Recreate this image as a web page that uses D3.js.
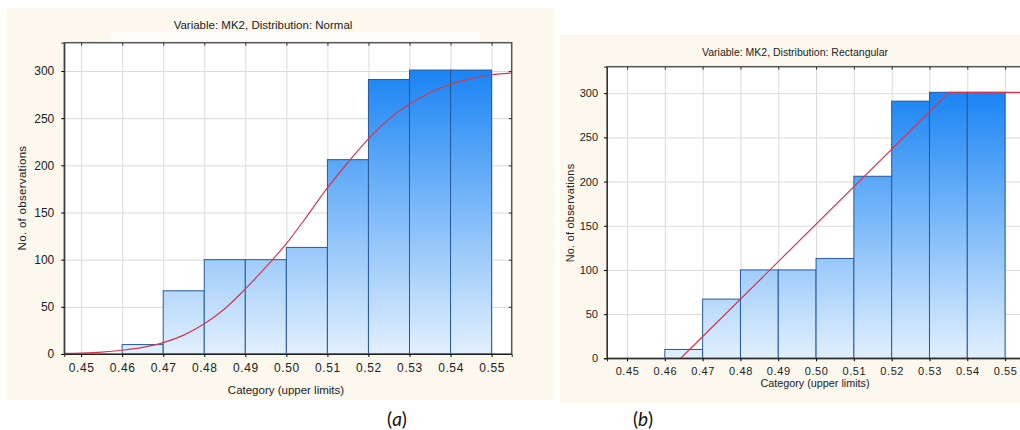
<!DOCTYPE html>
<html>
<head>
<meta charset="utf-8">
<script src="https://cdn.jsdelivr.net/npm/d3@7"></script>
<style>
    body { margin: 0; background: #fff; }
    svg { display: block; font-family: "Liberation Sans", Arial, sans-serif; }
</style>
</head>
<body>
<svg id="chart" width="1020" height="430"></svg>
<script>
// bins are labelled by their upper limits
const binLower = [0.45, 0.46, 0.47, 0.48, 0.49, 0.50, 0.51, 0.52, 0.53, 0.54];
const binUpper = [0.46, 0.47, 0.48, 0.49, 0.50, 0.51, 0.52, 0.53, 0.54, 0.55];
const counts = [0, 10, 67, 100, 100, 113, 206, 291, 301, 301];

const xTicks = [0.45, 0.46, 0.47, 0.48, 0.49, 0.50, 0.51, 0.52, 0.53, 0.54, 0.55];
const yTicks = [0, 50, 100, 150, 200, 250, 300];

// fitted cumulative curves
const normalX = [0.4455, 0.45, 0.455, 0.46, 0.465, 0.47, 0.475, 0.48, 0.485, 0.49, 0.495, 0.50,
    0.505, 0.51, 0.515, 0.52, 0.525, 0.53, 0.535, 0.54, 0.545, 0.55, 0.555];
const normalY = [0.6, 1, 2, 4, 7, 12, 20, 32, 48, 69, 92, 117,
    146, 176, 203, 228, 249, 265, 277, 286, 292, 296, 298];
const rectX = [0.4642, 0.5352, 0.556];
const rectY = [0, 301, 301];

class HistPanel {
    constructor(svg, opts) {
        this.svg = svg;
        this.o = opts;
    }

    draw() {
        const o = this.o;
        const g = this.svg.append("g");

        g.append("rect")
            .attr("x", o.panel[0]).attr("y", o.panel[1])
            .attr("width", o.panel[2]).attr("height", o.panel[3])
            .attr("fill", "#fcf8ee");
        if (o.whiteBand) {
            g.append("rect")
                .attr("x", o.whiteBand[0]).attr("y", o.whiteBand[1])
                .attr("width", o.whiteBand[2]).attr("height", o.whiteBand[3])
                .attr("fill", "#fefdf9");
        }

        const x = d3.scaleLinear().domain(o.xDomain).range([o.left, o.right]);
        const y = d3.scaleLinear().domain([0, 330]).range([o.bottom, o.top]);

        g.append("rect")
            .attr("x", o.left).attr("y", o.top)
            .attr("width", o.right - o.left).attr("height", o.bottom - o.top)
            .attr("fill", "#fff");

        const clipId = "clip-" + o.id;
        g.append("clipPath").attr("id", clipId)
            .append("rect")
            .attr("x", o.left).attr("y", o.top)
            .attr("width", o.right - o.left).attr("height", o.bottom - o.top);

        // grid
        g.append("g")
            .attr("transform", `translate(0,${o.bottom})`)
            .call(d3.axisBottom(x).tickValues(xTicks).tickSize(-(o.bottom - o.top)).tickFormat(""))
            .call(s => s.select(".domain").remove())
            .call(s => s.selectAll("line").attr("stroke", "#dadada"));
        g.append("g")
            .attr("transform", `translate(${o.left},0)`)
            .call(d3.axisLeft(y).tickValues(yTicks).tickSize(-(o.right - o.left)).tickFormat(""))
            .call(s => s.select(".domain").remove())
            .call(s => s.selectAll("line").attr("stroke", "#dadada"));

        // bar gradient spans the whole plot height
        const gradId = "grad-" + o.id;
        const grad = g.append("linearGradient")
            .attr("id", gradId)
            .attr("gradientUnits", "userSpaceOnUse")
            .attr("x1", 0).attr("x2", 0)
            .attr("y1", y(301)).attr("y2", y(0));
        grad.append("stop").attr("offset", 0).attr("stop-color", "#1a84f4");
        grad.append("stop").attr("offset", 1).attr("stop-color", "#e2f0fd");

        const bins = counts.map((c, i) => ({ lo: binLower[i], hi: binUpper[i], n: c }))
            .filter(d => d.n > 0);

        g.append("g")
            .attr("clip-path", `url(#${clipId})`)
            .selectAll("rect")
            .data(bins)
            .join("rect")
                .attr("x", d => x(d.lo))
                .attr("y", d => y(d.n))
                .attr("width", d => x(d.hi) - x(d.lo))
                .attr("height", d => y(0) - y(d.n))
                .attr("fill", `url(#${gradId})`)
                .attr("stroke", "#27599a")
                .attr("stroke-width", 1);

        const line = d3.line()
            .x(d => x(d[0]))
            .y(d => y(d[1]))
            .curve(o.smooth ? d3.curveMonotoneX : d3.curveLinear);

        g.append("g")
            .attr("clip-path", `url(#${clipId})`)
            .append("path")
            .datum(d3.zip(o.curveX, o.curveY))
            .attr("fill", "none")
            .attr("stroke", "#d0384f")
            .attr("stroke-width", 1.2)
            .attr("d", line);

        // frame
        g.append("rect")
            .attr("x", o.left).attr("y", o.top)
            .attr("width", o.right - o.left).attr("height", o.bottom - o.top)
            .attr("fill", "none")
            .attr("stroke", "#555")
            .attr("stroke-width", 1.5);

        // axes
        const xAxis = g.append("g")
            .attr("transform", `translate(0,${o.bottom})`)
            .call(d3.axisBottom(x).tickValues(xTicks).tickSize(3).tickPadding(o.xPad).tickFormat(d3.format(".2f")));
        xAxis.select(".domain").attr("stroke", "#222");
        xAxis.selectAll("text").attr("font-size", o.tickFont).attr("fill", "#222")
            .attr("font-family", "inherit").attr("letter-spacing", "0.6px");

        const yAxis = g.append("g")
            .attr("transform", `translate(${o.left},0)`)
            .call(d3.axisLeft(y).tickValues(yTicks).tickSize(3).tickPadding(o.yPad));
        yAxis.select(".domain").attr("stroke", "#333");
        yAxis.selectAll("text").attr("font-size", o.tickFont).attr("fill", "#222")
            .attr("font-family", "inherit");

        // small inner ticks on top and right
        g.append("g")
            .attr("transform", `translate(0,${o.top})`)
            .call(d3.axisTop(x).tickValues(xTicks).tickSize(-3).tickFormat(""))
            .call(s => s.select(".domain").remove())
            .call(s => s.selectAll("line").attr("stroke", "#333"));
        g.append("g")
            .attr("transform", `translate(${o.right},0)`)
            .call(d3.axisRight(y).tickValues(yTicks).tickSize(-3).tickFormat(""))
            .call(s => s.select(".domain").remove())
            .call(s => s.selectAll("line").attr("stroke", "#333"));

        g.append("text")
            .attr("x", o.title[0]).attr("y", o.title[1])
            .attr("text-anchor", "middle")
            .attr("font-size", o.titleFont)
            .attr("fill", "#222")
            .text(o.titleText);

        g.append("text")
            .attr("x", o.xLabel[0]).attr("y", o.xLabel[1])
            .attr("text-anchor", "middle")
            .attr("font-size", o.labelFont)
            .attr("fill", "#222")
            .text("Category (upper limits)");

        g.append("text")
            .attr("transform", `translate(${o.yLabel[0]},${o.yLabel[1]}) rotate(-90)`)
            .attr("text-anchor", "middle")
            .attr("font-size", o.labelFont)
            .attr("fill", "#222")
            .attr("letter-spacing", "0.3px")
            .text("No. of observations");

        const cap = this.svg.append("text")
            .attr("x", o.caption[0]).attr("y", o.caption[1])
            .attr("text-anchor", "middle")
            .attr("font-family", "Lato, 'Open Sans', sans-serif")
            .attr("font-size", 19)
            .attr("fill", "#111");
        cap.append("tspan").text("(");
        cap.append("tspan").attr("font-style", "italic").text(o.captionText);
        cap.append("tspan").text(")");
    }
}

const svg = d3.select("#chart");

new HistPanel(svg, {
    id: "a",
    panel: [7, 8, 548, 392],
    whiteBand: [110, 32, 370, 11],
    left: 64.3, right: 511.7, top: 42.7, bottom: 354,
    xDomain: [0.4459, 0.5549],
    curveX: normalX, curveY: normalY, smooth: true,
    titleText: "Variable: MK2, Distribution: Normal",
    title: [263, 29], titleFont: 11.5,
    xLabel: [286, 394], yLabel: [26, 198], labelFont: 11.5,
    tickFont: 12, xPad: 6, yPad: 7,
    caption: [397, 426], captionText: "a"
}).draw();

new HistPanel(svg, {
    id: "b",
    panel: [560, 35, 460, 368],
    left: 607, right: 1024, top: 66.7, bottom: 358.3,
    xDomain: [0.4447, 0.555],
    curveX: rectX, curveY: rectY, smooth: false,
    titleText: "Variable: MK2, Distribution: Rectangular",
    title: [795, 55.5], titleFont: 10.5,
    xLabel: [815, 386.5], yLabel: [574, 213], labelFont: 10.8,
    tickFont: 11, xPad: 6, yPad: 6,
    caption: [643, 426], captionText: "b"
}).draw();
</script>
</body>
</html>
